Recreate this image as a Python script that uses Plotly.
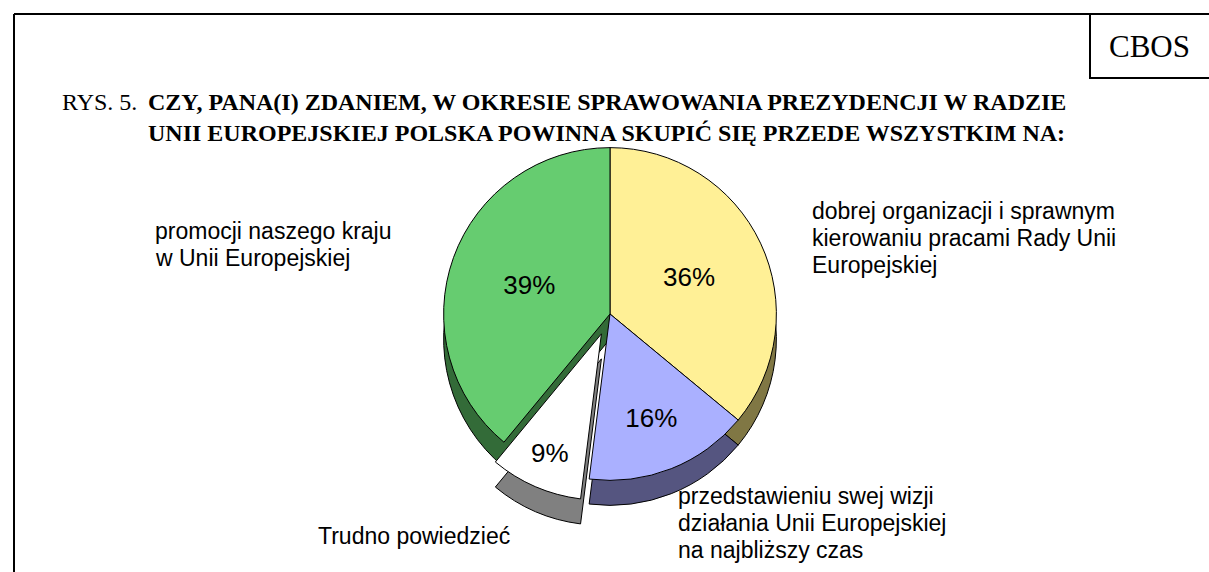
import plotly.graph_objects as go

categories = ["dobrej organizacji i sprawnym kierowaniu pracami Rady Unii Europejskiej",
              "przedstawieniu swej wizji działania Unii Europejskiej na najbliższy czas",
              "Trudno powiedzieć",
              "promocji naszego kraju w Unii Europejskiej"]
values = [36, 16, 9, 39]
pulls = [0, 0, 0.13, 0]
top_colors = ["#FFF096", "#AAB0FF", "#FFFFFF", "#66CC70"]
side_colors = ["#807744", "#555580", "#808080", "#336B38"]

label_lines = [
    ["dobrej organizacji i sprawnym", "kierowaniu pracami Rady Unii", "Europejskiej"],
    ["przedstawieniu swej wizji", "działania Unii Europejskiej", "na najbliższy czas"],
    ["Trudno powiedzieć"],
    ["promocji naszego kraju", "w Unii Europejskiej"],
]
# left x and centre y of the first line of each label block, line step 27 px
label_pos = [(810, 211), (676, 496), (316, 536), (153, 231)]
line_step = 27

W, H = 1209, 572
cx, cy, r = 610, 314, 188
depth = 25

def dom(dy):
    return dict(x=[(cx - r) / W, (cx + r) / W],
                y=[1 - (cy + dy + r) / H, 1 - (cy + dy - r) / H])

fig = go.Figure()
fig.add_trace(go.Pie(values=values, labels=categories, sort=False, direction="clockwise",
                     pull=pulls, marker=dict(colors=side_colors, line=dict(color="black", width=1)),
                     textinfo="none", hoverinfo="skip", domain=dom(depth), showlegend=False))
fig.add_trace(go.Pie(values=values, labels=categories, sort=False, direction="clockwise",
                     pull=pulls, marker=dict(colors=top_colors, line=dict(color="black", width=1)),
                     textinfo="percent", texttemplate="%{value}%", textposition="inside",
                     insidetextorientation="horizontal",
                     textfont=dict(family="Liberation Sans, Arial", size=26, color="black"),
                     domain=dom(0), showlegend=False))

annotations = []
for lines, (x, y) in zip(label_lines, label_pos):
    for i, line in enumerate(lines):
        annotations.append(dict(x=x / W, y=1 - (y + i * line_step) / H, xref="paper", yref="paper",
                                xanchor="left", yanchor="middle", align="left", showarrow=False,
                                text=line,
                                font=dict(family="Liberation Sans, Arial", size=23, color="black")))

serif = "Liberation Serif, Times New Roman"
annotations.append(dict(x=60 / W, y=1 - 87 / H, xref="paper", yref="paper", xanchor="left",
                        yanchor="top", showarrow=False, text="RYS. 5.",
                        font=dict(family=serif, size=24, color="black")))
annotations.append(dict(x=146 / W, y=1 - 87 / H, xref="paper", yref="paper", xanchor="left",
                        yanchor="top", showarrow=False, align="left",
                        text="<b>CZY, PANA(I) ZDANIEM, W OKRESIE SPRAWOWANIA PREZYDENCJI W RADZIE<br>"
                             "UNII EUROPEJSKIEJ POLSKA POWINNA SKUPIĆ SIĘ PRZEDE WSZYSTKIM NA:</b>",
                        font=dict(family=serif, size=24, color="black")))
annotations.append(dict(x=1149 / W, y=1 - 46 / H, xref="paper", yref="paper", xanchor="center",
                        yanchor="middle", showarrow=False, text="CBOS",
                        font=dict(family=serif, size=31, color="black")))

shapes = [
    dict(type="line", xref="paper", yref="paper", x0=14 / W, x1=1, y0=1 - 14 / H, y1=1 - 14 / H,
         line=dict(color="black", width=2)),
    dict(type="line", xref="paper", yref="paper", x0=14 / W, x1=14 / W, y0=1 - 14 / H, y1=0,
         line=dict(color="black", width=2)),
    dict(type="rect", xref="paper", yref="paper", x0=1090 / W, x1=1.01, y0=1 - 78 / H, y1=1 - 14 / H,
         line=dict(color="black", width=2)),
]

fig.update_layout(width=W, height=H, margin=dict(l=0, r=0, t=0, b=0),
                  paper_bgcolor="white", plot_bgcolor="white",
                  annotations=annotations, shapes=shapes)
fig.write_html("out.html", config={"displayModeBar": False},
               post_script="document.body.style.margin='0px';document.body.style.overflow='hidden';")
